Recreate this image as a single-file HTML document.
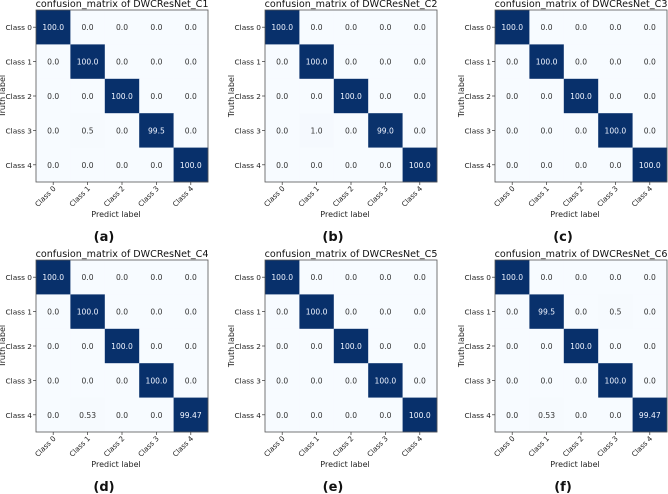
<!DOCTYPE html>
<html><head><meta charset="utf-8"><style>
body{margin:0;background:#fff;width:668px;height:494px;overflow:hidden}
svg{display:block}
text{font-family:"DejaVu Sans","Liberation Sans",sans-serif}
</style></head><body>
<svg id="s" width="668" height="494"></svg>
<script>
const classes=["Class 0","Class 1","Class 2","Class 3","Class 4"];
const titles=["confusion_matrix of DWCResNet_C1","confusion_matrix of DWCResNet_C2","confusion_matrix of DWCResNet_C3","confusion_matrix of DWCResNet_C4","confusion_matrix of DWCResNet_C5","confusion_matrix of DWCResNet_C6"];
const panelLetters=["(a)","(b)","(c)","(d)","(e)","(f)"];
const matA=[["100.0","0.0","0.0","0.0","0.0"],["0.0","100.0","0.0","0.0","0.0"],["0.0","0.0","100.0","0.0","0.0"],["0.0","0.5","0.0","99.5","0.0"],["0.0","0.0","0.0","0.0","100.0"]];
const matB=[["100.0","0.0","0.0","0.0","0.0"],["0.0","100.0","0.0","0.0","0.0"],["0.0","0.0","100.0","0.0","0.0"],["0.0","1.0","0.0","99.0","0.0"],["0.0","0.0","0.0","0.0","100.0"]];
const matC=[["100.0","0.0","0.0","0.0","0.0"],["0.0","100.0","0.0","0.0","0.0"],["0.0","0.0","100.0","0.0","0.0"],["0.0","0.0","0.0","100.0","0.0"],["0.0","0.0","0.0","0.0","100.0"]];
const matD=[["100.0","0.0","0.0","0.0","0.0"],["0.0","100.0","0.0","0.0","0.0"],["0.0","0.0","100.0","0.0","0.0"],["0.0","0.0","0.0","100.0","0.0"],["0.0","0.53","0.0","0.0","99.47"]];
const matE=[["100.0","0.0","0.0","0.0","0.0"],["0.0","100.0","0.0","0.0","0.0"],["0.0","0.0","100.0","0.0","0.0"],["0.0","0.0","0.0","100.0","0.0"],["0.0","0.0","0.0","0.0","100.0"]];
const matF=[["100.0","0.0","0.0","0.0","0.0"],["0.0","99.5","0.0","0.5","0.0"],["0.0","0.0","100.0","0.0","0.0"],["0.0","0.0","0.0","100.0","0.0"],["0.0","0.53","0.0","0.0","99.47"]];
const mats=[matA,matB,matC,matD,matE,matF];
const NS="http://www.w3.org/2000/svg";
const svg=document.getElementById("s");
function el(tag,attrs,parent,txt){const e=document.createElementNS(NS,tag);for(const k in attrs)e.setAttribute(k,attrs[k]);if(txt!==undefined)e.textContent=txt;parent.appendChild(e);return e;}
function color(v){
  const t=Math.max(0,Math.min(1,v/100));
  const c0=[247,251,255],c1=[8,48,107];
  return "rgb("+c0.map((c,i)=>Math.round(c+(c1[i]-c)*t)).join(",")+")";
}
const colX=[36,265,495], rowY=[10,260], size=172, cell=size/5;
mats.forEach((m,p)=>{
  const ox=colX[p%3], oy=rowY[Math.floor(p/3)];
  const g=el("g",{},svg);
  
  
  const xS=j=>ox+j*cell, yS=i=>oy+i*cell;
  const t=el("text",{x:ox+size/2,y:oy-3,"text-anchor":"middle","font-size":"9.6",fill:"#111"},g,titles[p]);
  
  
  m.forEach((row,i)=>row.forEach((v,j)=>{
    const val=parseFloat(v);
    const r=el("rect",{x:xS(j),y:yS(i),width:cell+0.3,height:cell+0.3,fill:color(val)},g);
    
    
    const tx=el("text",{x:xS(j)+cell/2,y:yS(i)+cell/2+3,"text-anchor":"middle","font-size":"7.6",fill:val>50?"#f0f4ff":"#333"},g,v);
    
    
  }));
  const fr=el("rect",{x:ox,y:oy,width:size,height:size,fill:"none",stroke:"#555","stroke-width":"0.8"},g);
  
  
  classes.forEach((c,k)=>{
    el("line",{x1:ox-3,x2:ox,y1:yS(k)+cell/2,y2:yS(k)+cell/2,stroke:"#333","stroke-width":"0.7"},g);
    const yl=el("text",{x:ox-4,y:yS(k)+cell/2+3,"text-anchor":"end","font-size":"7.4",fill:"#222"},g,c);
    
    
    const cx=xS(k)+cell/2, ty=oy+size+7;
    el("line",{x1:cx,x2:cx,y1:oy+size,y2:oy+size+3,stroke:"#333","stroke-width":"0.7"},g);
    const xl=el("text",{x:cx+3,y:ty,"text-anchor":"end","font-size":"7.2",fill:"#222",transform:"rotate(-45 "+(cx+3)+" "+ty+")"},g,c);
    
    
  });
  const xt=el("text",{x:ox+size/2-6,y:oy+size+35,"text-anchor":"middle","font-size":"8",fill:"#222"},g,"Predict label");
  
  
  const yx=ox-31, yy=oy+size/2;
  const yt=el("text",{x:yx,y:yy,"text-anchor":"middle","font-size":"8",fill:"#222",transform:"rotate(-90 "+yx+" "+yy+")"},g,"Truth label");
  
  
  const pl=el("text",{x:ox+size/2-18,y:oy+size+59,"text-anchor":"middle","font-size":"13","font-weight":"bold",fill:"#111"},g,panelLetters[p]);
  
  
});
</script>
</body></html>
